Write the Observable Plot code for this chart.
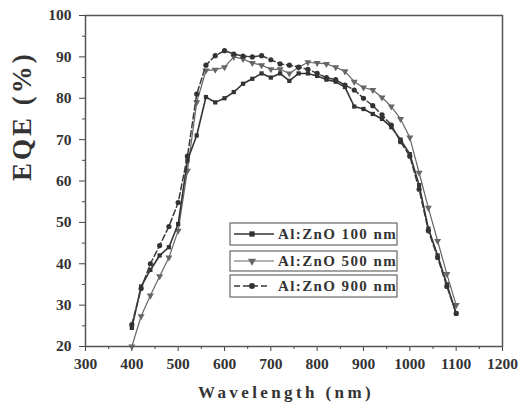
<!DOCTYPE html>
<html>
<head>
<meta charset="utf-8">
<script src="https://cdn.jsdelivr.net/npm/d3@7"></script>
<script src="https://cdn.jsdelivr.net/npm/@observablehq/plot@0.6"></script>
<style>
  html, body { margin: 0; padding: 0; background: #fff; }
  #chart { position: relative; width: 521px; height: 408px; }
</style>
</head>
<body>
<div id="chart"></div>
<script>
const wavelength = [400,420,440,460,480,500,520,540,560,580,600,620,640,660,680,700,720,740,760,780,800,820,840,860,880,900,920,940,960,980,1000,1020,1040,1060,1080,1100];
const eqe100 = [24.5,34.5,38.5,42,44,49.6,65,71,80.3,79,80,81.5,83.5,84.7,86,85,86,84.2,86,86,85.4,84.5,84,82.7,78,77.4,76.2,75,73,70,66.5,59,48.5,42,35,28];
const eqe500 = [20,27.3,32.3,37,41.5,48,62.5,79,86.7,86.9,87.5,90,89.5,88.5,88,87,87,86,87.5,88.7,88.5,88.3,87.5,86.5,84,82.6,82,80.2,78,75,70.5,62,53.5,45.5,37.5,30];
const eqe900 = [25.3,34,40,44.4,49,54.8,66,81,88,90.3,91.5,90.7,90.2,90,90.3,89.3,88.3,88,87.5,87,86,85,84.5,83.2,82,80,78.2,76,73.5,69.5,66,58,48,41.5,34.5,28];
const seriesNames = ["Al:ZnO 100 nm","Al:ZnO 500 nm","Al:ZnO 900 nm"];
const xTicks = [300,400,500,600,700,800,900,1000,1100,1200];
const xMinor = [350,450,550,650,750,850,950,1050,1150];
const yTicks = [20,30,40,50,60,70,80,90,100];
const yMinor = [25,35,45,55,65,75,85,95];

const toRows = (vals) => wavelength.map((w, i) => ({w, v: vals[i]}));
const d100 = toRows(eqe100), d500 = toRows(eqe500), d900 = toRows(eqe900);

const font = "'Liberation Serif', 'DejaVu Serif', serif";
const plot = Plot.plot({
  width: 521,
  height: 408,
  marginLeft: 85,
  marginRight: 19,
  marginTop: 15,
  marginBottom: 62,
  style: {fontFamily: font, fontWeight: "bold", fontSize: "15.5px", color: "#333", background: "#fff"},
  x: {domain: [300, 1200]},
  y: {domain: [20, 100]},
  marks: [
    Plot.axisX({ticks: xMinor, tickSize: 3, tickFormat: () => "", label: null, stroke: "#444"}),
    Plot.axisX({ticks: xTicks, tickSize: 5, tickPadding: 6, tickFormat: d => String(d), label: null, stroke: "#444", fill: "#333"}),
    Plot.axisY({ticks: yMinor, tickSize: 3, tickFormat: () => "", label: null, stroke: "#444"}),
    Plot.axisY({ticks: yTicks, tickSize: 6, tickPadding: 8, tickFormat: d => String(d), label: null, stroke: "#444", fill: "#333"}),
    Plot.frame({stroke: "#555", strokeWidth: 1.5}),
    Plot.line(d500, {x: "w", y: "v", stroke: "#666", strokeWidth: 1.2}),
    Plot.dot(d500, {x: "w", y: "v", symbol: "triangle", rotate: 180, r: 2.6, fill: "#666", stroke: "none"}),
    Plot.line(d100, {x: "w", y: "v", stroke: "#333", strokeWidth: 1.6}),
    Plot.dot(d100, {x: "w", y: "v", symbol: "square", r: 2.4, fill: "#333", stroke: "none"}),
    Plot.line(d900, {x: "w", y: "v", stroke: "#3a3a3a", strokeWidth: 1.5, strokeDasharray: "6,3"}),
    Plot.dot(d900, {x: "w", y: "v", symbol: "circle", r: 2.6, fill: "#333", stroke: "none"}),
    Plot.text(["EQE (%)"], {frameAnchor: "left", dx: -63, rotate: -90, fontSize: 27, fontWeight: "bold", fill: "#333", className: "ylabel"}),
    Plot.text(["Wavelength (nm)"], {frameAnchor: "bottom", dy: 51, dx: -8, fontSize: 17, fontWeight: "bold", fill: "#333", className: "xlabel"})
  ]
});
document.getElementById("chart").appendChild(plot);
d3.select(plot).selectAll(".xlabel text").style("letter-spacing", "3.4px");
d3.select(plot).selectAll(".ylabel text").style("letter-spacing", "3px");

// Legend drawn into the SVG
const svg = d3.select(plot);
const lg = svg.append("g").attr("font-family", font).attr("font-weight", "bold").attr("font-size", 15)
  .attr("fill", "#333").attr("text-anchor", "start");
const boxes = [[223, 245], [251, 271], [275, 297]];
const styles = [
  {stroke: "#333", dash: null, sym: d3.symbolSquare, w: 1.6, fill: "#333"},
  {stroke: "#666", dash: null, sym: d3.symbolTriangle, w: 1.2, fill: "#666", rot: 180},
  {stroke: "#3a3a3a", dash: "6,3", sym: d3.symbolCircle, w: 1.5, fill: "#333"}
];
seriesNames.forEach((name, i) => {
  const [y0, y1] = boxes[i];
  const cy = (y0 + y1) / 2;
  const s = styles[i];
  lg.append("rect").attr("x", 230).attr("y", y0).attr("width", 167).attr("height", y1 - y0)
    .attr("fill", "none").attr("stroke", "#666").attr("stroke-width", 1.2);
  lg.append("line").attr("x1", 234).attr("x2", i === 2 ? 268 : 274).attr("y1", cy).attr("y2", cy)
    .attr("stroke", s.stroke).attr("stroke-width", s.w).attr("stroke-dasharray", s.dash);
  lg.append("path").attr("d", d3.symbol(s.sym, 28)())
    .attr("transform", `translate(252,${cy}) rotate(${s.rot || 0})`).attr("fill", s.fill);
  lg.append("text").attr("x", 278).attr("y", cy).attr("dy", "0.35em").attr("letter-spacing", "1.4px").text(name);
});
</script>
</body>
</html>
